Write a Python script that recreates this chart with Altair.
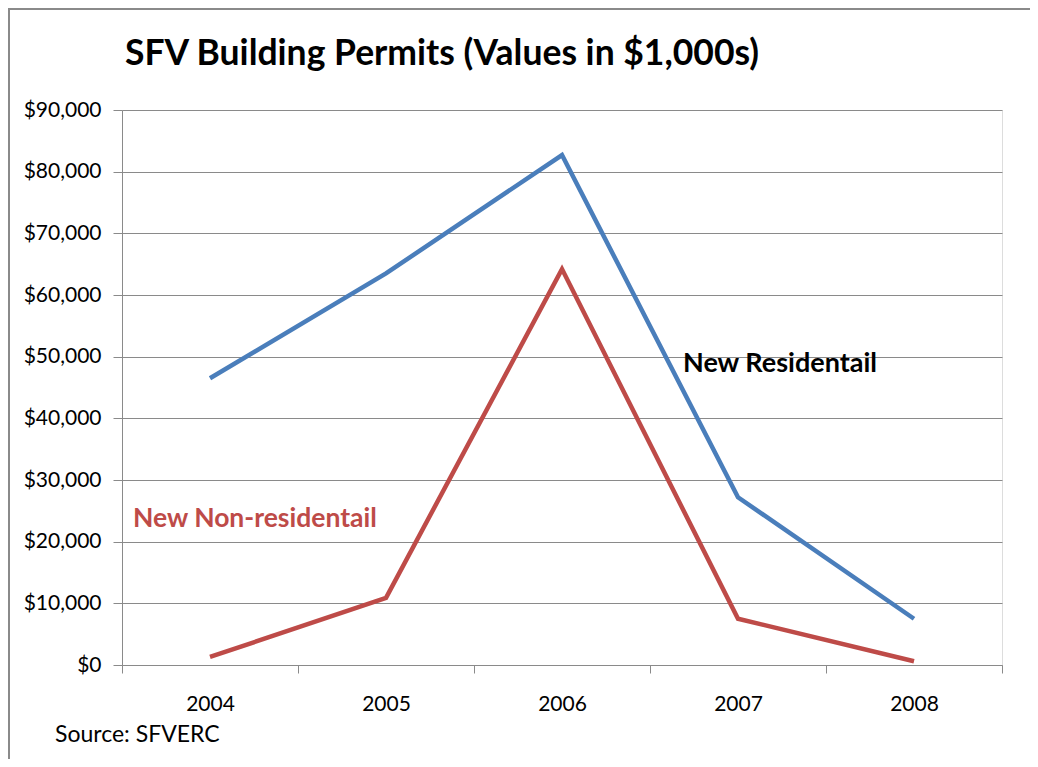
import altair as alt
import pandas as pd

years = ["2004", "2005", "2006", "2007", "2008"]
residential = [46500, 63500, 82700, 27200, 7500]
non_residential = [1300, 10900, 64200, 7500, 600]
series_names = ["New Residentail", "New Non-residentail"]
series_colors = ["#4A7EBB", "#BE4B48"]
y_ticks = [0, 10000, 20000, 30000, 40000, 50000, 60000, 70000, 80000, 90000]
title_text = "SFV Building Permits (Values in $1,000s)"
source_text = "Source: SFVERC"

rows = []
for y, r, n in zip(years, residential, non_residential):
    rows.append({"year": y, "value": r, "series": series_names[0]})
    rows.append({"year": y, "value": n, "series": series_names[1]})
df = pd.DataFrame(rows)

# annotation anchors (category + value where the label baseline sits)
ann = pd.DataFrame({
    "year": ["2007", "2004"],
    "value": [47500, 22400],
    "series": series_names,
})

FONT = "Lato"
GRID = "#8a8a8a"

xenc = alt.X("year:N", sort=years, title=None,
             scale=alt.Scale(paddingInner=0, paddingOuter=0),
             axis=alt.Axis(labelAngle=0, tickBand="extent", labelFontSize=21,
                           labelFont=FONT, labelColor="black", tickSize=8,
                           tickColor=GRID, domainColor=GRID, labelPadding=20,
                           grid=False))
yenc = alt.Y("value:Q", title=None,
             scale=alt.Scale(domain=[0, 90000], nice=False),
             axis=alt.Axis(values=y_ticks, format="$,.0f", labelFontSize=21,
                           labelFont=FONT, labelColor="black", tickSize=9,
                           tickColor=GRID, domainColor=GRID, gridColor=GRID,
                           gridOpacity=1, labelPadding=12))
color = alt.Color("series:N", scale=alt.Scale(domain=series_names, range=series_colors),
                  legend=None)

lines = alt.Chart(df).mark_line(strokeWidth=4.5).encode(x=xenc, y=yenc, color=color)

ann_res = alt.Chart(ann[ann.series == series_names[0]]).mark_text(
    align="left", baseline="alphabetic", fontSize=27, fontWeight="bold",
    font=FONT, color="black", dx=-55
).encode(x=alt.X("year:N", sort=years), y="value:Q", text="series:N")

ann_non = alt.Chart(ann[ann.series == series_names[1]]).mark_text(
    align="left", baseline="alphabetic", fontSize=26.5, fontWeight="bold",
    font=FONT, color="#BE4B48", dx=-77
).encode(x=alt.X("year:N", sort=years), y="value:Q", text="series:N")

source = alt.Chart(pd.DataFrame({"t": [source_text]})).mark_text(
    align="left", baseline="alphabetic", fontSize=23, font=FONT, color="black"
).encode(x=alt.value(-67), y=alt.value(632), text="t:N")

title = alt.Chart(pd.DataFrame({"t": [title_text]})).mark_text(
    align="left", baseline="alphabetic", fontSize=35.5, fontWeight="bold",
    font=FONT, color="black"
).encode(x=alt.value(3), y=alt.value(-45), text="t:N")

border = alt.Chart(pd.DataFrame({"a": [0]})).mark_rect(
    fill=None, stroke="#8a8a8a", strokeWidth=2
).encode(x=alt.value(-113), x2=alt.value(1000), y=alt.value(-101), y2=alt.value(700))

chart = alt.layer(border, lines, ann_res, ann_non, source, title).properties(
    width=880, height=555,
    autosize=alt.AutoSizeParams(type="none"),
    padding={"left": 114, "top": 102, "right": 28, "bottom": 94},
).configure_view(stroke=None).configure(background="white")

chart.save("out.html", embed_options={"renderer": "svg", "actions": False})
